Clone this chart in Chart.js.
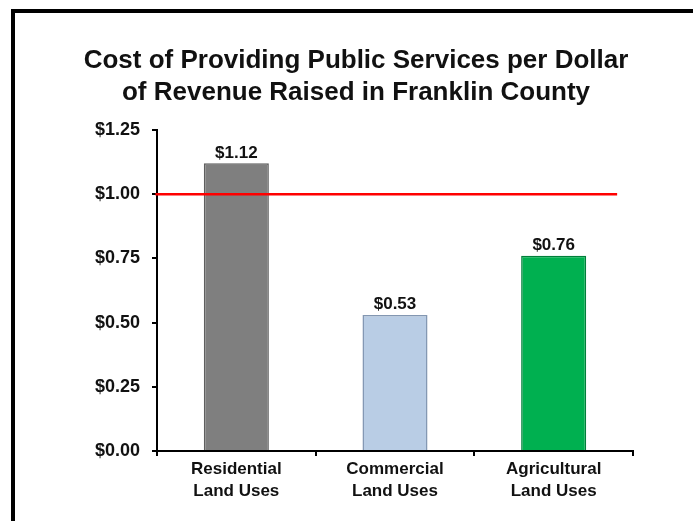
<!DOCTYPE html>
<html>
<head>
<meta charset="utf-8">
<script src="https://cdn.jsdelivr.net/npm/chart.js@4.4.1/dist/chart.umd.min.js"></script>
<style>
    html, body { margin: 0; padding: 0; background: #fff; overflow: hidden; }
    .frame {
        position: absolute;
        left: 11px;
        top: 9px;
        width: 700px;
        height: 600px;
        border: 4px solid #000;
        box-sizing: border-box;
    }
    .wrap { position: absolute; left: 0; top: 0; width: 693px; height: 521px; }
</style>
</head>
<body>
<div class="frame"></div>
<div class="wrap"><canvas id="chart" width="693" height="521"></canvas></div>
<script>
const categories = [
    ['Residential', 'Land Uses'],
    ['Commercial', 'Land Uses'],
    ['Agricultural', 'Land Uses'],
];
const costs = [1.12, 0.53, 0.76];
const yTicks = [0, 0.25, 0.5, 0.75, 1, 1.25];
const breakEven = 1.0;
const breakEvenSpan = [-0.51, 2.4];

const barColors = ['#7f7f7f', '#b9cde5', '#00b050'];
const barBorders = ['#5e5e5e', '#8397b2', '#007f3a'];

const font = '"Liberation Sans", Arial, sans-serif';
const money = value => `$${Number(value).toFixed(2)}`;

const valueLabels = {
    id: 'valueLabels',
    afterDatasetsDraw(chart) {
        const { ctx } = chart;
        const meta = chart.getDatasetMeta(1);
        ctx.save();
        ctx.font = `bold 17px ${font}`;
        ctx.fillStyle = '#111';
        ctx.textAlign = 'center';
        ctx.textBaseline = 'bottom';
        meta.data.forEach((bar, i) => {
            ctx.fillText(money(costs[i]), bar.x, bar.y - 2);
        });
        ctx.restore();
    },
};

new Chart(document.getElementById('chart'), {
    type: 'bar',
    data: {
        labels: categories,
        datasets: [
            {
                type: 'line',
                xAxisID: 'xLine',
                data: breakEvenSpan.map(x => ({ x, y: breakEven })),
                borderColor: '#ff0000',
                borderWidth: 2.5,
                pointRadius: 0,
                clip: false,
                order: 0,
            },
            {
                data: costs,
                backgroundColor: barColors,
                borderColor: barBorders,
                borderWidth: 1.5,
                grouped: false,
                categoryPercentage: 1,
                barPercentage: 0.41,
                order: 1,
            },
        ],
    },
    options: {
        responsive: false,
        animation: false,
        layout: { padding: { left: 79, right: 60, top: 0, bottom: 0 } },
        plugins: {
            legend: { display: false },
            tooltip: { enabled: false },
            title: {
                display: true,
                text: ['Cost of Providing Public Services per Dollar', 'of Revenue Raised in Franklin County'],
                color: '#111',
                font: { family: font, size: 26, weight: 'bold', lineHeight: 1.23 },
                padding: { top: 45, bottom: 21 },
            },
        },
        scales: {
            x: {
                offset: true,
                grid: { drawOnChartArea: false, drawTicks: true, tickLength: 5, color: '#000', lineWidth: 2, offset: true },
                border: { color: '#000', width: 2 },
                ticks: {
                    color: '#111',
                    padding: 3,
                    font: { family: font, size: 17, weight: 'bold', lineHeight: 1.25 },
                },
                afterFit: scale => { scale.height = 70; },
            },
            xLine: {
                type: 'linear',
                display: false,
                offset: false,
                min: -0.5,
                max: 2.5,
            },
            y: {
                min: 0,
                max: 1.25,
                grid: { drawOnChartArea: false, drawTicks: true, tickLength: 5, color: '#000', lineWidth: 2 },
                border: { color: '#000', width: 2 },
                afterBuildTicks: scale => { scale.ticks = yTicks.map(value => ({ value })); },
                ticks: {
                    color: '#111',
                    padding: 12,
                    font: { family: font, size: 18, weight: 'bold' },
                    callback: value => money(value),
                },
                afterFit: scale => { scale.width = 78; },
            },
        },
    },
    plugins: [valueLabels],
});
</script>
</body>
</html>
